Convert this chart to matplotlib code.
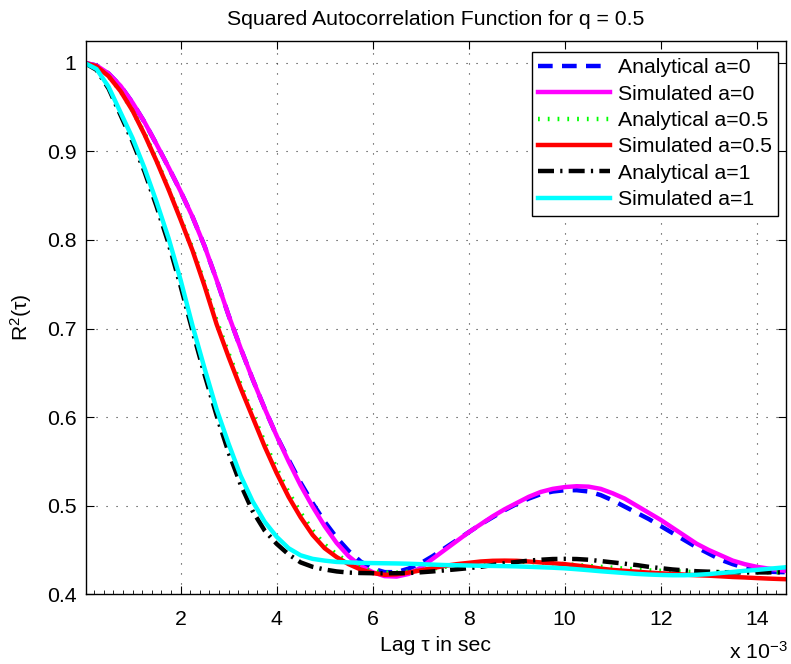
import numpy as np
import matplotlib
matplotlib.use("Agg")
import matplotlib.pyplot as plt
from matplotlib.ticker import MultipleLocator

plt.rcParams['font.family'] = ['Liberation Sans', 'DejaVu Sans']
plt.rcParams['mathtext.fontset'] = 'custom'
plt.rcParams['mathtext.rm'] = 'Liberation Sans'
plt.rcParams['mathtext.it'] = 'Liberation Sans:italic'

# lag grid in ms (values every 0.25 ms)
lag_ms = np.arange(0, 14.76, 0.25)

analytical_a0 = [1.000, 0.997, 0.988, 0.974, 0.955, 0.933, 0.908, 0.882, 0.855, 0.826,
                 0.793, 0.755, 0.715, 0.678, 0.643, 0.610, 0.579, 0.552, 0.526, 0.503,
                 0.482, 0.464, 0.449, 0.437, 0.429, 0.425, 0.425, 0.429, 0.435, 0.443,
                 0.452, 0.461, 0.470, 0.479, 0.487, 0.495, 0.502, 0.508, 0.513, 0.516,
                 0.5175, 0.5175, 0.516, 0.512, 0.506, 0.499, 0.492, 0.485, 0.477, 0.469,
                 0.461, 0.453, 0.446, 0.439, 0.434, 0.430, 0.427, 0.4255, 0.425, 0.425]
simulated_a0 = [1.000, 0.997, 0.988, 0.974, 0.955, 0.933, 0.908, 0.882, 0.855, 0.826,
                0.793, 0.755, 0.715, 0.678, 0.643, 0.610, 0.579, 0.550, 0.523, 0.499,
                0.477, 0.458, 0.443, 0.432, 0.425, 0.4205, 0.420, 0.423, 0.430, 0.440,
                0.450, 0.460, 0.470, 0.479, 0.488, 0.496, 0.503, 0.510, 0.5155, 0.519,
                0.521, 0.522, 0.5215, 0.519, 0.514, 0.508, 0.500, 0.492, 0.484, 0.475,
                0.466, 0.457, 0.450, 0.444, 0.438, 0.434, 0.431, 0.429, 0.427, 0.426]
analytical_a05 = [1.000, 0.996, 0.985, 0.968, 0.946, 0.920, 0.890, 0.858, 0.825, 0.790,
                  0.751, 0.709, 0.672, 0.637, 0.604, 0.572, 0.542, 0.515, 0.492, 0.472,
                  0.456, 0.445, 0.436, 0.430, 0.426, 0.4245, 0.4245, 0.4255, 0.427, 0.429,
                  0.431, 0.433, 0.4345, 0.4358, 0.4365, 0.437, 0.437, 0.4365, 0.436, 0.435,
                  0.434, 0.433, 0.432, 0.431, 0.430, 0.429, 0.428, 0.427, 0.4265, 0.426,
                  0.4255, 0.425, 0.425, 0.425, 0.425, 0.425, 0.425, 0.425, 0.425, 0.425]
simulated_a05 = [1.000, 0.996, 0.985, 0.968, 0.946, 0.919, 0.889, 0.857, 0.823, 0.788,
                 0.748, 0.705, 0.668, 0.633, 0.600, 0.567, 0.537, 0.510, 0.487, 0.467,
                 0.452, 0.442, 0.434, 0.428, 0.424, 0.422, 0.4225, 0.4245, 0.427, 0.4295,
                 0.432, 0.434, 0.4355, 0.437, 0.4378, 0.438, 0.4378, 0.437, 0.436, 0.435,
                 0.434, 0.4325, 0.431, 0.429, 0.4275, 0.4265, 0.4255, 0.4245, 0.4237, 0.423,
                 0.4222, 0.4215, 0.421, 0.4203, 0.4195, 0.419, 0.4183, 0.4177, 0.4172, 0.4168]
analytical_a1 = [1.000, 0.992, 0.971, 0.941, 0.911, 0.877, 0.838, 0.796, 0.748, 0.697,
                 0.648, 0.602, 0.560, 0.524, 0.494, 0.472, 0.457, 0.445, 0.436, 0.431,
                 0.428, 0.4258, 0.4245, 0.424, 0.4238, 0.4237, 0.4238, 0.424, 0.4248, 0.4258,
                 0.427, 0.4282, 0.4295, 0.431, 0.433, 0.435, 0.4365, 0.438, 0.439, 0.4398,
                 0.440, 0.4398, 0.439, 0.4375, 0.436, 0.4345, 0.433, 0.431, 0.4295, 0.428,
                 0.427, 0.426, 0.4255, 0.425, 0.4248, 0.4247, 0.4247, 0.4247, 0.4248, 0.4248]
simulated_a1 = [1.000, 0.993, 0.973, 0.944, 0.915, 0.881, 0.843, 0.802, 0.755, 0.703,
                0.655, 0.609, 0.570, 0.534, 0.505, 0.482, 0.465, 0.452, 0.444, 0.440,
                0.438, 0.4365, 0.436, 0.4355, 0.4352, 0.435, 0.4348, 0.4345, 0.434, 0.4335,
                0.433, 0.4328, 0.4325, 0.4322, 0.432, 0.4318, 0.4315, 0.431, 0.4305, 0.430,
                0.4293, 0.4283, 0.4272, 0.426, 0.425, 0.424, 0.423, 0.4223, 0.4218, 0.4215,
                0.4215, 0.422, 0.4228, 0.424, 0.4252, 0.4265, 0.4275, 0.4288, 0.430, 0.4312]

labels = ['Analytical a=0', 'Simulated a=0', 'Analytical a=0.5',
          'Simulated a=0.5', 'Analytical a=1', 'Simulated a=1']

tau = lag_ms * 1e-3
fs = 15.3

fig = plt.figure(figsize=(7.91, 6.64), dpi=100)
ax = fig.add_axes([0.1087, 0.105, 0.885, 0.8337])

lw = 3.2
ax.plot(tau, analytical_a0, color=(0, 0, 1), lw=lw, dashes=(3.3, 2.1), label=labels[0])
ax.plot(tau, simulated_a0, color=(1, 0, 1), lw=lw, label=labels[1])
ax.plot(tau, analytical_a05, color=(0, 1, 0), lw=lw, dashes=(0.4, 1.8),
        dash_capstyle='butt', label=labels[2])
ax.plot(tau, simulated_a05, color=(1, 0, 0), lw=lw, label=labels[3])
ax.plot(tau, analytical_a1, color='k', lw=lw, dashes=(3.6, 1.4, 0.5, 1.4),
        dash_capstyle='butt', label=labels[4])
ax.plot(tau, simulated_a1, color=(0, 1, 1), lw=lw, label=labels[5])

ax.set_xlim(0.03e-3, 14.61e-3)
ax.set_ylim(0.4, 1.025)

xt = [2, 4, 6, 8, 10, 12, 14]
ax.set_xticks([v * 1e-3 for v in xt])
ax.set_xticklabels([str(v) for v in xt])
ax.xaxis.set_minor_locator(MultipleLocator(0.2e-3))
yt = [0.4, 0.5, 0.6, 0.7, 0.8, 0.9, 1.0]
ax.set_yticks(yt)
ax.set_yticklabels(['0.4', '0.5', '0.6', '0.7', '0.8', '0.9', '1'])

ax.tick_params(which='major', direction='in', length=6, width=0.8,
               top=True, right=True, labelsize=fs, pad=7)
ax.tick_params(axis='x', which='major', pad=11)
ax.tick_params(axis='x', which='minor', direction='in', length=3, width=0.6,
               top=False, bottom=True)
for s in ax.spines.values():
    s.set_linewidth(1.0)

ax.grid(True, which='major', color='0.2', linestyle=(0, (1, 8)), linewidth=0.8)

ax.set_title('Squared Autocorrelation Function for q = 0.5', fontsize=fs, pad=11)
ax.set_xlabel('Lag τ in sec', fontsize=fs, labelpad=5)
ax.set_ylabel(r'R$^{2}$(τ)', fontsize=fs, labelpad=9)

fig.text(788 / 791, 1 - 659 / 664, r'x 10$^{-3}$', ha='right', va='baseline',
         fontsize=fs)

leg = ax.legend(loc='upper right', bbox_to_anchor=(1 - 8 / 700, 1 - 11 / 553.6),
                borderaxespad=0, fontsize=fs, handlelength=3.4, handletextpad=0.35,
                labelspacing=0.35, borderpad=0.3, fancybox=False, framealpha=1)
leg.get_frame().set_edgecolor('k')
leg.get_frame().set_linewidth(1.0)

fig.savefig('out.png', dpi=100)
